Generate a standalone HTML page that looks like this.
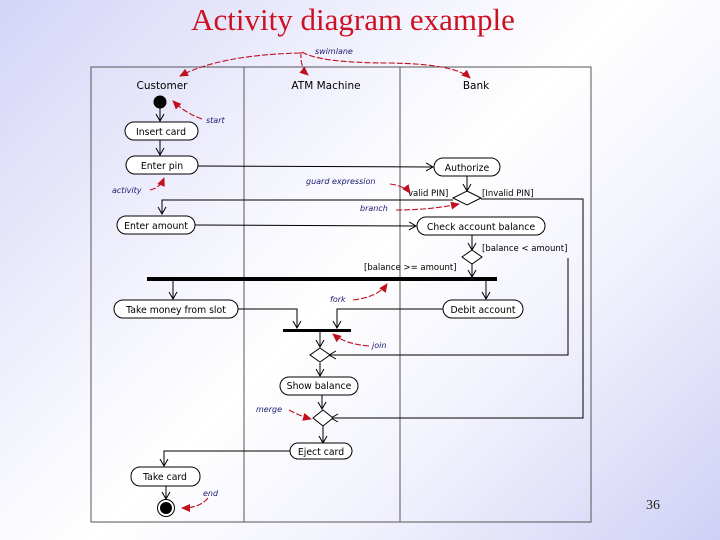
<!DOCTYPE html>
<html><head><style>
html,body{margin:0;padding:0}
body{width:720px;height:540px;overflow:hidden;background:linear-gradient(135deg,#d4d4f8 0%,#f4f4fd 35%,#ffffff 50%,#f2f2fd 70%,#d0d0f6 100%)}
svg{position:absolute;left:0;top:0}
</style></head><body>
<svg width="720" height="540" viewBox="0 0 720 540" font-family="'DejaVu Sans','Liberation Sans',sans-serif">
<defs>
<marker id="a" markerWidth="10" markerHeight="10" refX="8" refY="5" orient="auto" markerUnits="userSpaceOnUse"><path d="M1,1 L8,5 L1,9" fill="none" stroke="#000" stroke-width="1"/></marker>
<marker id="r" markerWidth="10" markerHeight="10" refX="8" refY="5" orient="auto" markerUnits="userSpaceOnUse"><path d="M0,1 L9,5 L0,9 z" fill="#c01020"/></marker>
</defs>
<text x="353" y="30" text-anchor="middle" font-family="'Liberation Serif',serif" font-size="31" fill="#cc1122">Activity diagram example</text>
<text x="660" y="509" text-anchor="end" font-family="'Liberation Serif',serif" font-size="14" fill="#222">36</text>
<g stroke="#555" fill="none" stroke-width="1">
<rect x="91" y="67" width="500" height="455"/>
<line x1="244" y1="67" x2="244" y2="522"/>
<line x1="400" y1="67" x2="400" y2="522"/>
</g>
<g font-size="10.5" text-anchor="middle" fill="#000">
<text x="162" y="89">Customer</text><text x="326" y="89">ATM Machine</text><text x="476" y="89">Bank</text>
</g>
<g stroke="#000" fill="none" stroke-width="1">
<line x1="160" y1="108" x2="160" y2="121" marker-end="url(#a)"/>
<line x1="160" y1="140" x2="160" y2="155" marker-end="url(#a)"/>
<line x1="198" y1="166" x2="433" y2="167" marker-end="url(#a)"/>
<line x1="467" y1="176" x2="467" y2="191" marker-end="url(#a)"/>
<polyline points="481,199 583,199 583,418 331,418" marker-end="url(#a)"/>
<polyline points="453,200 162,200 162,214" marker-end="url(#a)"/>
<line x1="195" y1="225" x2="416" y2="226" marker-end="url(#a)"/>
<line x1="472" y1="235" x2="472" y2="250" marker-end="url(#a)"/>
<polyline points="568,258 568,355 329,355" marker-end="url(#a)"/>
<line x1="472" y1="264" x2="472" y2="277" marker-end="url(#a)"/>
<line x1="173" y1="281" x2="173" y2="299" marker-end="url(#a)"/>
<line x1="486" y1="281" x2="486" y2="299" marker-end="url(#a)"/>
<polyline points="238,309 297,309 297,328" marker-end="url(#a)"/>
<polyline points="443,309 337,309 337,328" marker-end="url(#a)"/>
<line x1="320" y1="332" x2="320" y2="347" marker-end="url(#a)"/>
<line x1="320" y1="363" x2="320" y2="376" marker-end="url(#a)"/>
<line x1="322" y1="394" x2="322" y2="409" marker-end="url(#a)"/>
<line x1="323" y1="426" x2="323" y2="443" marker-end="url(#a)"/>
<polyline points="290,451 164,451 164,466" marker-end="url(#a)"/>
<line x1="166" y1="486" x2="166" y2="499" marker-end="url(#a)"/>
</g>
<circle cx="160" cy="102" r="6.5" fill="#000"/>
<circle cx="166" cy="508" r="8.5" fill="#fff" stroke="#000"/>
<circle cx="166" cy="508" r="6" fill="#000"/>
<rect x="147" y="277" width="350" height="4" fill="#000"/>
<rect x="283" y="329" width="68" height="3" fill="#000"/>
<g fill="#fff" stroke="#000" stroke-width="1">
<rect x="125" y="122" width="73" height="18" rx="9"/>
<rect x="126" y="156" width="72" height="18" rx="9"/>
<rect x="434" y="158" width="66" height="18" rx="9"/>
<rect x="117" y="216" width="78" height="18" rx="9"/>
<rect x="417" y="217" width="128" height="18" rx="9"/>
<rect x="114" y="300" width="124" height="18" rx="9"/>
<rect x="443" y="300" width="80" height="18" rx="9"/>
<rect x="280" y="377" width="78" height="18" rx="9"/>
<rect x="290" y="443" width="62" height="16" rx="8"/>
<rect x="131" y="467" width="69" height="19" rx="9"/>
<polygon points="467,191 481,198 467,205 453,198"/>
<polygon points="472,250 482,257 472,264 462,257"/>
<polygon points="320,348 330,355 320,362 310,355"/>
<polygon points="323,410 333,418 323,426 313,418"/>
</g>
<g font-size="9.3" text-anchor="middle" fill="#000">
<text x="161" y="135">Insert card</text>
<text x="162" y="169">Enter pin</text>
<text x="467" y="171">Authorize</text>
<text x="156" y="229">Enter amount</text>
<text x="481" y="230">Check account balance</text>
<text x="176" y="313">Take money from slot</text>
<text x="483" y="313">Debit account</text>
<text x="319" y="389">Show balance</text>
<text x="321" y="455">Eject card</text>
<text x="165" y="480">Take card</text>
</g>
<g font-size="8.5" fill="#000">
<text x="408" y="196">valid PIN]</text>
<text x="482" y="196">[Invalid PIN]</text>
<text x="482" y="251">[balance &lt; amount]</text>
<text x="364" y="270">[balance &gt;= amount]</text>
</g>
<g font-size="8" font-style="italic" fill="#1a1a70">
<text x="315" y="54">swimlane</text>
<text x="206" y="123">start</text>
<text x="112" y="193">activity</text>
<text x="306" y="184">guard expression</text>
<text x="360" y="211">branch</text>
<text x="330" y="302">fork</text>
<text x="372" y="348">join</text>
<text x="256" y="412">merge</text>
<text x="203" y="496">end</text>
</g>
<g stroke="#c01020" stroke-width="1.1" fill="none" stroke-dasharray="6,2">
<path d="M300,53 Q220,55 180,76" marker-end="url(#r)"/>
<path d="M301,52 Q300,68 308,75" marker-end="url(#r)"/>
<path d="M302,52 Q320,63 390,63 Q455,64 470,78" marker-end="url(#r)"/>
<path d="M202,119 Q185,113 173,101" marker-end="url(#r)"/>
<path d="M150,190 Q160,188 164,178" marker-end="url(#r)"/>
<path d="M390,184 Q405,186 410,193" marker-end="url(#r)"/>
<path d="M396,210 Q430,210 459,204" marker-end="url(#r)"/>
<path d="M353,300 Q378,297 387,284" marker-end="url(#r)"/>
<path d="M369,346 Q345,344 333,334" marker-end="url(#r)"/>
<path d="M289,410 Q300,416 311,419" marker-end="url(#r)"/>
<path d="M208,498 Q200,508 182,508" marker-end="url(#r)"/>
</g>
</svg>
</body></html>
